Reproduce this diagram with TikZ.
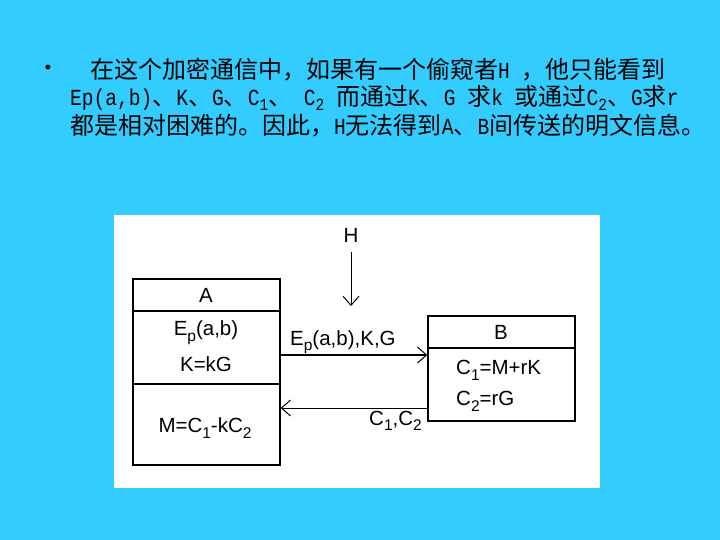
\documentclass[tikz,border=0pt]{standalone}
\usepackage{fontspec}
\setmainfont{Liberation Sans}
\newfontfamily\cjk{Noto Sans CJK SC}
\newfontfamily\lmo[FakeStretch=0.85]{Liberation Mono}
\usetikzlibrary{arrows.meta}
\definecolor{bgcyan}{HTML}{33CCFF}
\newcommand\sbs[1]{\raisebox{-0.55ex}{\fontsize{15.5}{15}\selectfont #1}}
\newcommand\tsb[1]{\raisebox{-0.45ex}{\fontsize{17}{15}\selectfont\lmo #1}}
\newcommand\la[1]{{\fontsize{23}{30}\selectfont\lmo #1}}
\tikzset{
  box/.style={draw, line width=1.5pt, inner sep=0pt},
  lbl/.style={font=\fontsize{20.5}{22}\selectfont, inner sep=0pt},
  toptxt/.style={font=\cjk\fontsize{24}{30}\selectfont, inner sep=0pt, anchor=west},
  arr/.style={-{Straight Barb[length=9pt,width=16pt,line width=1pt]}, line width=1pt},
}
\begin{document}
\begin{tikzpicture}[x=1pt,y=-1pt]
\fill[bgcyan] (0,0) rectangle (720,540);
\useasboundingbox (0,0) rectangle (720,540);
% text
\node[inner sep=0pt, font=\fontsize{18}{18}\selectfont] (bul) at (48,69) {•};
\node[toptxt] (t1) at (90,70) {在这个加密通信中，如果有一个偷窥者\la{H~}，他只能看到};
\node[toptxt] (t2) at (70,98) {\la{Ep(a,b)}、\la{K}、\la{G}、\la{C}\tsb{1}、\la{~C}\tsb{2}\la{~}而通过\la{K}、\la{G~}求\la{k~}或通过\la{C}\tsb{2}、\la{G}求\la{r}};
\node[toptxt] (t3) at (70,126) {都是相对困难的。因此，\la{H}无法得到\la{A}、\la{B}间传送的明文信息。};
% panel
\fill[white] (114,215) rectangle (600,488);
\node[box, minimum width=147pt, minimum height=186pt] (A) at (206.5,372) {};
\node[box, minimum width=147pt, minimum height=105pt] (B) at (501.5,368.5) {};
\draw[line width=1.5pt] (A.west |- 0,311) -- (A.east |- 0,311);
\draw[line width=1.5pt] (A.west |- 0,384) -- (A.east |- 0,384);
\draw[line width=1.5pt] (B.west |- 0,348) -- (B.east |- 0,348);
\node[lbl] (Ah) at (206,295) {A};
\node[lbl] (Ae) at (206,333) {E\sbs{p}(a,b)};
\node[lbl] (Ak) at (206,364) {K=kG};
\node[lbl] (Am) at (205,428) {M=C\sbs{1}-kC\sbs{2}};
\node[lbl] (Bh) at (501,332) {B};
\node[lbl, anchor=west] (Bc1) at (456,370) {C\sbs{1}=M+rK};
\node[lbl, anchor=west] (Bc2) at (456,401) {C\sbs{2}=rG};
\node[lbl] (H) at (351,235) {H};
\coordinate (Hs) at (351,252);
\coordinate (He) at (351,306);
\draw[arr] (Hs) -- (He);
\draw[arr, line width=1.5pt] (A.east |- 0,355) -- (B.west |- 0,355);
\draw[arr] (B.west |- 0,408) -- (A.east |- 0,408);
\node[lbl, anchor=base west] (L1) at (290,345) {E\sbs{p}(a,b),K,G};
\node[lbl, anchor=base west] (L2) at (369,425) {C\sbs{1},C\sbs{2}};
\end{tikzpicture}
\end{document}
